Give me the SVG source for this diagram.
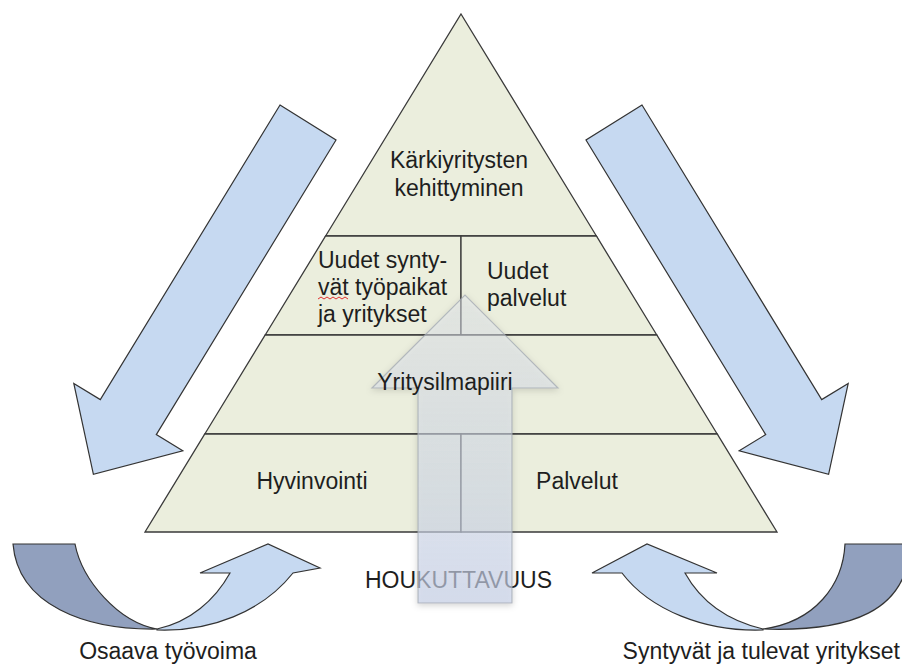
<svg xmlns="http://www.w3.org/2000/svg" width="902" height="666" viewBox="0 0 902 666">
<defs>
<style>
.cell{fill:#ebeedd;stroke:#3a3a3a;stroke-width:1.3;stroke-linejoin:miter}
.t{font-family:"Liberation Sans",Arial,sans-serif;font-size:23px;fill:#1e1e1e}
.mid{text-anchor:middle}
.blue{fill:#c6d9f1;stroke:#333;stroke-width:1.2;stroke-linejoin:miter}
.dark{fill:#91a0be;stroke:#333;stroke-width:1.2}
</style>
<linearGradient id="upg" x1="0" y1="0" x2="0" y2="1">
<stop offset="0" stop-color="#e4e9f0" stop-opacity="0.45"/>
<stop offset="1" stop-color="#c9d3ea" stop-opacity="0.65"/>
</linearGradient>
<filter id="sh" x="-20%" y="-20%" width="140%" height="140%">
<feDropShadow dx="0" dy="2" stdDeviation="3" flood-color="#000" flood-opacity="0.25"/>
</filter>
</defs>
<rect width="902" height="666" fill="#fff"/>

<g id="pyramid">
<g id="top"><polygon class="cell" points="461,14 596.4,236 325.6,236"/>
<text class="t mid" x="459" y="168">Kärkiyritysten</text>
<text class="t mid" x="459" y="196">kehittyminen</text></g>
<g id="new-jobs"><polygon class="cell" points="325.6,236 461,236 461,335 265.2,335"/>
<text class="t" x="318" y="268">Uudet synty-</text>
<text class="t" x="318" y="295">vät työpaikat</text>
<text class="t" x="318" y="322">ja yritykset</text>
<path d="M318,299 l3,-2 l3,2 l3,-2 l3,2 l3,-2 l3,2 l3,-2 l3,2 l3,-2 l3,2" fill="none" stroke="#e03030" stroke-width="1"/></g>
<g id="new-services"><polygon class="cell" points="461,236 596.4,236 656.8,335 461,335"/>
<text class="t" x="487" y="279">Uudet</text>
<text class="t" x="487" y="306">palvelut</text></g>
<g id="yritysilmapiiri"><polygon class="cell" points="265.2,335 656.8,335 717.2,434 204.8,434"/></g>
<g id="hyvinvointi"><polygon class="cell" points="204.8,434 461,434 461,532 145,532"/>
<text class="t mid" x="312" y="489">Hyvinvointi</text></g>
<g id="palvelut"><polygon class="cell" points="461,434 717.2,434 777,532 461,532"/>
<text class="t mid" x="577" y="489">Palvelut</text></g>
</g>

<g id="connectors">
<polygon id="arrow-left" class="blue" points="280,105 336,140 156.3,434.6 182.8,450.8 93.4,474.3 73.8,383.4 100.3,399.6"/>
<polygon id="arrow-right" class="blue" points="642,105 586,140 765.7,434.6 739.2,450.8 828.6,474.3 848.2,383.4 821.7,399.6"/>
<g id="curve-left">
<path class="dark" d="M13,544 L75,544 C82,580 118,622 157,629 C85,630 18,605 13,544 Z"/>
<path class="blue" d="M157,630 C210,632 262,612 293,573 L320,568 L268,544 L200,573 L230,573 C215,600 190,622 157,629 Z"/>
</g>
<g id="curve-right">
<path class="dark" d="M910,544 L845,544 C843,585 815,622 763,629 C850,632 908,612 910,544 Z"/>
<path class="blue" d="M763,630 C705,632 650,610 622,573 L592,573 L647,544 L717,573 L685,573 C700,600 725,620 763,629 Z"/>
</g>
</g>

<g id="houkuttavuus-label"><text class="t" x="365" y="588">HOUKUTTAVUUS</text></g>
<g id="up-arrow">
<path d="M418,603 L418,388 L372,388 L465,295 L558,388 L512,388 L512,603 Z" fill="url(#upg)" stroke="#9ea4ae" stroke-opacity="0.7" stroke-width="1.2" filter="url(#sh)"/>
</g>
<g id="yritysilmapiiri-label"><text class="t mid" x="445" y="390">Yritysilmapiiri</text></g>

<g id="labels">
<text class="t mid" x="168" y="659">Osaava työvoima</text>
<text class="t" x="900" y="659" text-anchor="end">Syntyvät ja tulevat  yritykset</text>
</g>
</svg>
